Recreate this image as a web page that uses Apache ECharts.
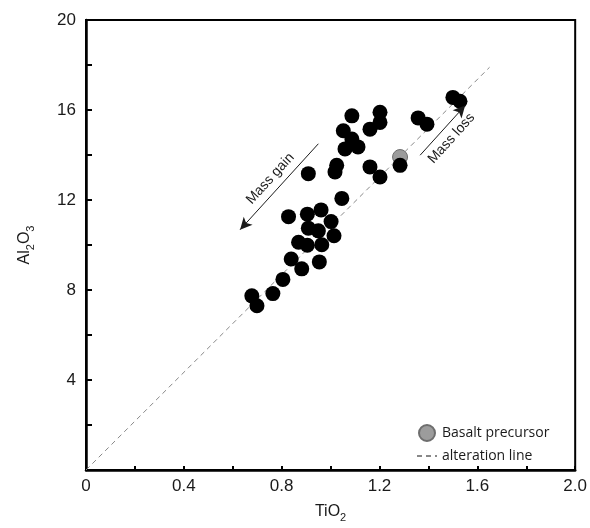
<!DOCTYPE html>
<html>
<head>
<meta charset="utf-8">
<script src="https://cdn.jsdelivr.net/npm/echarts@6/dist/echarts.min.js"></script>
<style>
  html, body { margin: 0; padding: 0; background: #fff; }
  #main { width: 590px; height: 528px; }
</style>
</head>
<body>
<div id="main"></div>
<script>
// samples (TiO2, Al2O3)
var tio2 = [0.678, 0.699, 0.764, 0.805, 0.839, 0.882, 0.954, 0.869, 0.905, 0.964,
  0.909, 0.950, 1.002, 1.014, 0.828, 0.905, 0.961, 1.046, 0.909, 1.025,
  1.018, 1.059, 1.112, 1.087, 1.052, 1.087, 1.161, 1.202, 1.202, 1.161,
  1.202, 1.284, 1.358, 1.394, 1.500, 1.529];
var al2o3 = [7.74, 7.30, 7.84, 8.47, 9.38, 8.94, 9.25, 10.12, 9.99, 10.01,
  10.75, 10.63, 11.04, 10.41, 11.26, 11.37, 11.56, 12.07, 13.17, 13.54,
  13.25, 14.27, 14.36, 14.71, 15.08, 15.74, 15.15, 15.45, 15.90, 13.47,
  13.02, 13.54, 15.65, 15.37, 16.56, 16.39];
// basalt precursor
var precursor = [1.284, 13.91];
// alteration line through origin and precursor
var alterLine = [[0, 0], [1.65, 17.9]];
// arrows: [name, start, end]
var arrows = [
  ['Mass gain', [0.95, 14.5], [0.63, 10.68]],
  ['Mass loss', [1.366, 13.99], [1.55, 16.2]]
];

var samples = tio2.map(function (v, i) { return [v, al2o3[i]]; });

var myChart = echarts.init(document.getElementById('main'));
var option = {
  backgroundColor: '#fff',
  animation: false,
  grid: {
    left: 86, right: 14, top: 20, bottom: 54,
    show: true, borderColor: '#000', borderWidth: 2
  },
  legend: {
    orient: 'vertical',
    left: 411,
    top: 419,
    itemWidth: 20,
    itemHeight: 16,
    itemGap: 7,
    textStyle: { fontFamily: 'Open Sans', fontSize: 14, color: '#1a1a1a' },
    data: [
      { name: 'Basalt precursor' },
      { name: 'alteration line', itemStyle: { opacity: 0 } }
    ]
  },
  xAxis: {
    type: 'value',
    min: 0, max: 2, interval: 0.4,
    name: '{a|TiO}{s|2}',
    nameLocation: 'middle',
    nameGap: 30,
    nameTextStyle: {
      rich: {
        a: { fontFamily: 'Liberation Sans', fontSize: 16, color: '#1a1a1a' },
        s: { fontFamily: 'Liberation Sans', fontSize: 11, color: '#1a1a1a', padding: [12, 0, 0, 0] }
      }
    },
    axisLine: { lineStyle: { color: '#000', width: 2.5 } },
    axisTick: { inside: true, length: 4, lineStyle: { color: '#000', width: 2 } },
    minorTick: { show: true, splitNumber: 2, length: 4, lineStyle: { color: '#000', width: 2 } },
    splitLine: { show: false },
    axisLabel: {
      fontFamily: 'Liberation Sans', fontSize: 17, color: '#1a1a1a', margin: 8,
      formatter: function (v) { return v === 0 ? '0' : v.toFixed(1); }
    }
  },
  yAxis: {
    type: 'value',
    min: 0, max: 20, interval: 4,
    name: '{a|Al}{s|2}{a|O}{s|3}',
    nameLocation: 'middle',
    nameGap: 50,
    nameRotate: 90,
    nameTextStyle: {
      rich: {
        a: { fontFamily: 'Liberation Sans', fontSize: 16, color: '#1a1a1a' },
        s: { fontFamily: 'Liberation Sans', fontSize: 11, color: '#1a1a1a', padding: [12, 0, 0, 0] }
      }
    },
    axisLine: { lineStyle: { color: '#000', width: 2.5 } },
    axisTick: { inside: true, length: 6, lineStyle: { color: '#000', width: 2 } },
    minorTick: { show: true, splitNumber: 2, length: 6, lineStyle: { color: '#000', width: 2 } },
    splitLine: { show: false },
    axisLabel: {
      fontFamily: 'Liberation Sans', fontSize: 17, color: '#1a1a1a', margin: 10,
      showMinLabel: false
    }
  },
  series: [
    {
      name: 'alteration line',
      type: 'line',
      data: alterLine,
      symbol: 'none',
      z: 1,
      lineStyle: { color: '#888', width: 1, type: [5, 4] },
      itemStyle: { color: '#888' },
      markLine: {
        silent: true,
        symbol: ['none', 'arrow'],
        symbolSize: [9, 12],
        lineStyle: { color: '#1a1a1a', width: 1, type: 'solid' },
        label: {
          show: true,
          formatter: '{b}',
          fontFamily: 'Liberation Sans',
          fontSize: 14,
          color: '#1a1a1a'
        },
        data: arrows.map(function (a, i) {
          return [
            { name: a[0], coord: a[1], label: { position: i === 0 ? 'insideMiddleTop' : 'insideMiddleBottom' } },
            { coord: a[2] }
          ];
        })
      }
    },
    {
      name: 'Basalt precursor',
      type: 'scatter',
      data: [precursor],
      symbolSize: 15,
      z: 2,
      itemStyle: { color: '#9c9c9c', borderColor: '#6e6e6e', borderWidth: 1, opacity: 1 }
    },
    {
      name: 'samples',
      type: 'scatter',
      data: samples,
      symbolSize: 15,
      z: 3,
      itemStyle: { color: '#000', opacity: 1 }
    }
  ]
};
option && myChart.setOption(option);
</script>
</body>
</html>
